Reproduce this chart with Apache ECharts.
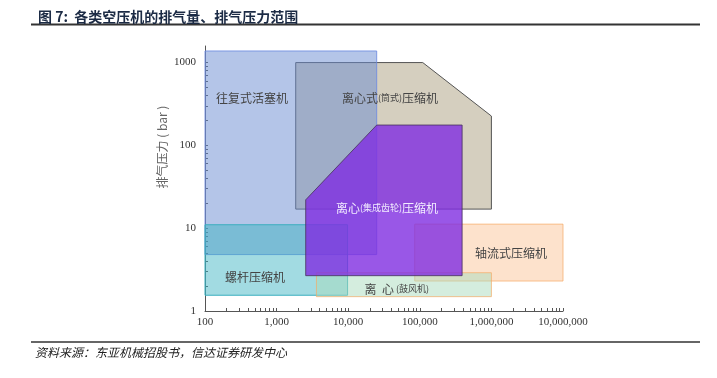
<!DOCTYPE html>
<html lang="zh">
<head>
<meta charset="UTF-8">
<title>各类空压机的排气量、排气压力范围</title>
<script src="https://cdn.jsdelivr.net/npm/echarts@6/dist/echarts.min.js"></script>
<style>
    html, body { margin: 0; padding: 0; background: #fff; }
    #main { width: 717px; height: 378px; }
</style>
</head>
<body>
<div id="main"></div>
<script>
// 横轴: 排气量, 纵轴: 排气压力 (bar), 都是对数轴
var flowDecades = [100, 1000, 10000, 100000, 1000000, 10000000];
var pressureDecades = [1, 10, 100, 1000];
var minorSteps = [1, 2, 3, 4, 5, 6, 7, 8, 9];

// 各类压缩机的范围 [排气量, 排气压力]
var barrelRange = [[1850, 17], [1000000, 17], [1000000, 226], [110000, 1000], [1850, 1000]];
var pistonRange = [[100, 4.8], [25000, 4.8], [25000, 1380], [100, 1380]];
var screwRange  = [[100, 1.55], [9800, 1.55], [9800, 11], [100, 11]];
var axialRange  = [[85000, 2.3], [10000000, 2.3], [10000000, 11.2], [85000, 11.2]];
var blowerRange = [[3600, 1.49], [1000000, 1.49], [1000000, 2.9], [3600, 2.9]];
var gearRange   = [[2550, 2.67], [390000, 2.67], [390000, 176], [25000, 176], [2550, 22]];

var cjk = '"Noto Sans CJK SC", "Noto Sans", sans-serif';
var serif = '"Liberation Serif", "DejaVu Serif", serif';

// 画的先后顺序 = 叠放顺序
var shapes = [
    { pts: barrelRange, fill: 'rgba(150,135,95,0.4)',  stroke: '#555' },
    { pts: pistonRange, fill: 'rgba(105,140,210,0.5)', stroke: 'rgba(110,140,225,0.85)' },
    { pts: screwRange,  fill: 'rgba(60,180,195,0.48)', stroke: '#3aaebe' },
    { pts: axialRange,  fill: 'rgba(250,180,120,0.38)', stroke: 'rgba(245,170,100,0.7)' },
    { pts: blowerRange, fill: 'rgba(170,220,190,0.5)', stroke: 'rgba(245,170,100,0.7)' },
    { pts: gearRange,   fill: 'rgba(128,45,225,0.8)',  stroke: 'rgba(70,50,90,0.8)' }
];

var labels = [
    { at: [453, 373],     text: '{a|往复式活塞机}', color: '#444' },
    { at: [38400, 373],   text: '{a|离心式}{b|(筒式)}{a|压缩机}', color: '#444' },
    { at: [34800, 17.5],  text: '{a|离心}{b|(集成齿轮)}{a|压缩机}', color: '#f2ecff' },
    { at: [499, 2.57],    text: '{a|螺杆压缩机}', color: '#444' },
    { at: [47800, 1.84],  text: '{a|离  心}{b| (鼓风机)}', color: '#444' },
    { at: [1880000, 5.0], text: '{a|轴流式压缩机}', color: '#444' }
];

function logTicks(decades) {
    var out = [];
    decades.forEach(function (d, i) {
        if (i === decades.length - 1) { out.push(d); return; }
        minorSteps.forEach(function (m) { out.push(d * m); });
    });
    return out;
}

var chart = echarts.init(document.getElementById('main'));

var option = {
    animation: false,
    title: {
        text: '图 7:  各类空压机的排气量、排气压力范围',
        left: 33,
        top: 5,
        textStyle: { fontFamily: cjk, fontSize: 14, fontWeight: 'bold', color: '#1c2b45' }
    },
    grid: { left: 205, right: 154, top: 46, bottom: 67 },
    xAxis: {
        type: 'log',
        min: 100,
        max: 10000000,
        splitLine: { show: false },
        axisLine: { lineStyle: { color: '#555', width: 1 } },
        axisTick: { inside: true, length: 3, customValues: logTicks(flowDecades), lineStyle: { color: '#555' } },
        axisLabel: {
            customValues: flowDecades,
            margin: 6,
            fontFamily: serif,
            fontSize: 11,
            color: '#333',
            formatter: function (v) { return Number(v).toLocaleString('en-US'); }
        }
    },
    yAxis: {
        type: 'log',
        min: 1,
        max: Math.pow(10, 3.2),
        splitLine: { show: false },
        axisLine: { lineStyle: { color: '#555', width: 1 } },
        axisTick: { inside: true, length: 3, customValues: logTicks(pressureDecades), lineStyle: { color: '#555' } },
        axisLabel: {
            customValues: pressureDecades,
            margin: 9,
            fontFamily: serif,
            fontSize: 11,
            color: '#333',
            formatter: function (v) { return String(Math.round(v)); }
        }
    },
    graphic: [
        { type: 'line', shape: { x1: 31, y1: 24.5, x2: 700, y2: 24.5 }, style: { stroke: '#333', lineWidth: 2 } },
        { type: 'line', shape: { x1: 31, y1: 342, x2: 700, y2: 342 }, style: { stroke: '#333', lineWidth: 1.5 } },
        {
            type: 'text', x: 35, y: 352,
            style: {
                text: '资料来源：东亚机械招股书，信达证券研发中心',
                font: 'italic 12px ' + cjk,
                fill: '#222',
                verticalAlign: 'middle'
            }
        },
        {
            type: 'text', x: 162, y: 147, rotation: Math.PI / 2,
            style: {
                text: '排气压力 ( bar )',
                font: '12px ' + cjk,
                fill: '#666',
                align: 'center',
                verticalAlign: 'middle'
            }
        }
    ],
    series: [
        {
            type: 'custom',
            name: '范围',
            data: shapes.map(function (s) { return s.pts[0]; }),
            renderItem: function (params, api) {
                var s = shapes[params.dataIndex];
                var pts = s.pts.map(function (p) { return api.coord(p); });
                return {
                    type: 'polygon',
                    shape: { points: pts },
                    style: { fill: s.fill, stroke: s.stroke, lineWidth: 1 }
                };
            },
            z: 2
        },
        {
            type: 'custom',
            name: '标注',
            data: labels.map(function (l) { return l.at; }),
            renderItem: function (params, api) {
                var l = labels[params.dataIndex];
                var c = api.coord(l.at);
                return {
                    type: 'text',
                    x: c[0],
                    y: c[1],
                    style: {
                        text: l.text,
                        align: 'center',
                        verticalAlign: 'middle',
                        rich: {
                            a: { fontFamily: cjk, fontSize: 12, fill: l.color },
                            b: { fontFamily: cjk, fontSize: 9, fill: l.color }
                        }
                    }
                };
            },
            z: 5
        }
    ]
};

chart.setOption(option);
</script>
</body>
</html>
